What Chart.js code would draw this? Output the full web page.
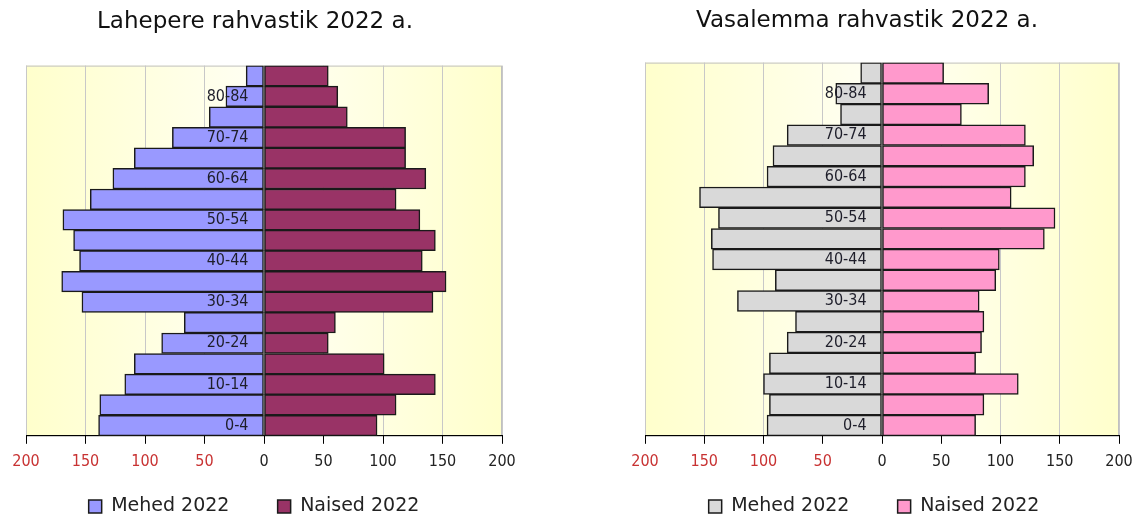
<!DOCTYPE html>
<html>
<head>
<meta charset="utf-8">
<script src="https://cdn.jsdelivr.net/npm/chart.js@4.4.1/dist/chart.umd.min.js"></script>
<style>
  body { margin: 0; background: #fff; }
  .box { position: absolute; top: 0; width: 571px; height: 520px; }
</style>
</head>
<body>
<div class="box" style="left:0"><canvas id="lahepere"></canvas></div>
<div class="box" style="left:571px"><canvas id="vasalemma"></canvas></div>
<script>
const ageGroups = ["0-4", "5-9", "10-14", "15-19", "20-24", "25-29", "30-34", "35-39", "40-44",
  "45-49", "50-54", "55-59", "60-64", "65-69", "70-74", "75-79", "80-84", "85+"];

const lahepereMehed  = [139, 138, 117, 109, 86, 67, 153, 170, 155, 160, 169, 146, 127, 109, 77, 46, 32, 15];
const lahepereNaised = [95, 111, 144, 101, 54, 60, 142, 153, 133, 144, 131, 111, 136, 119, 119, 70, 62, 54];

const vasalemmaMehed  = [97, 95, 100, 95, 80, 73, 122, 90, 143, 144, 138, 154, 97, 92, 80, 35, 39, 18];
const vasalemmaNaised = [79, 86, 115, 79, 84, 86, 82, 96, 99, 137, 146, 109, 121, 128, 121, 67, 90, 52];

const xTicks = [-200, -150, -100, -50, 0, 50, 100, 150, 200];

const COND = "'DejaVu Sans Condensed', 'DejaVu Sans', sans-serif";
const SANS = "'DejaVu Sans', sans-serif";

// plot background + frame
const plotBg = {
  id: "plotBg",
  beforeDraw(chart) {
    const { ctx, chartArea: a } = chart;
    const g = ctx.createLinearGradient(a.left, 0, a.right, 0);
    g.addColorStop(0, "#ffffcc");
    g.addColorStop(0.5, "#fffff4");
    g.addColorStop(1, "#ffffcc");
    ctx.save();
    ctx.fillStyle = g;
    ctx.fillRect(a.left, a.top, a.right - a.left, a.bottom - a.top);
    ctx.strokeStyle = "#c0c0c0";
    ctx.lineWidth = 1;
    ctx.strokeRect(a.left + 0.5, a.top + 0.5, a.right - a.left - 1, a.bottom - a.top);
    ctx.restore();
  }
};

// title and legend sit a bit left of the plot centre in the original
const shiftBoxes = {
  id: "shiftBoxes",
  afterLayout(chart, args, opts) {
    if (chart.titleBlock) {
      chart.titleBlock.left += opts.title;
      chart.titleBlock.right += opts.title;
    }
    if (chart.legend) {
      chart.legend.left += opts.legend;
      chart.legend.right += opts.legend;
    }
  }
};

function makeChart(id, title, mehed, naised, menColor, womenColor, padding, titlePad, shift) {
  return new Chart(document.getElementById(id), {
    type: "bar",
    data: {
      labels: ageGroups,
      datasets: [
        {
          label: "Mehed 2022",
          data: mehed.map(v => -v),
          backgroundColor: menColor,
          borderColor: "#1a1a1a",
          borderWidth: 1.5,
          borderSkipped: false,
          barPercentage: 1,
          categoryPercentage: 1
        },
        {
          label: "Naised 2022",
          data: naised,
          backgroundColor: womenColor,
          borderColor: "#1a1a1a",
          borderWidth: 1.5,
          borderSkipped: false,
          barPercentage: 1,
          categoryPercentage: 1
        }
      ]
    },
    options: {
      indexAxis: "y",
      responsive: true,
      maintainAspectRatio: false,
      animation: false,
      layout: { padding },
      scales: {
        x: {
          stacked: true,
          min: -200,
          max: 200,
          afterBuildTicks: axis => { axis.ticks = xTicks.map(v => ({ value: v })); },
          grid: { color: "#c8c8c8", tickColor: "#000", tickLength: 8 },
          border: { color: "#000", width: 1 },
          ticks: {
            padding: 8,
            font: { family: COND, size: 16 },
            color: c => (c.tick && c.tick.value < 0 ? "#c83232" : "#222"),
            callback: v => Math.abs(v)
          }
        },
        y: {
          stacked: true,
          reverse: true,
          // labels end a little left of the zero line
          position: { x: -13 },
          grid: { display: false, drawTicks: false },
          border: { display: false },
          ticks: {
            z: 1,
            autoSkip: false,
            font: { family: COND, size: 16 },
            color: "#1e1e2a",
            callback: (v, i) => (i % 2 === 0 ? ageGroups[i] : "")
          }
        }
      },
      plugins: {
        title: {
          display: true,
          text: title,
          color: "#111",
          font: { family: SANS, size: 23, weight: "normal" },
          padding: titlePad
        },
        legend: {
          position: "bottom",
          maxHeight: 41,
          labels: {
            boxWidth: 13,
            boxHeight: 13,
            padding: 18,
            color: "#222",
            font: { family: SANS, size: 19 },
            generateLabels: chart => {
              const items = Chart.defaults.plugins.legend.labels.generateLabels(chart);
              items[0].text += "\u00a0\u00a0\u00a0\u00a0\u00a0";
              return items;
            }
          }
        },
        tooltip: { enabled: false },
        shiftBoxes: shift
      }
    },
    plugins: [plotBg, shiftBoxes]
  });
}

makeChart("lahepere", "Lahepere rahvastik 2022 a.", lahepereMehed, lahepereNaised,
  "#9999ff", "#993366", { left: 26, right: 69, top: 0, bottom: 0 },
  { top: 8, bottom: 30 }, { title: -9, legend: -10 });
makeChart("vasalemma", "Vasalemma rahvastik 2022 a.", vasalemmaMehed, vasalemmaNaised,
  "#d9d9d9", "#ff99cc", { left: 74, right: 23, top: 0, bottom: 0 },
  { top: 7, bottom: 28 }, { title: -15, legend: -8 });
</script>
</body>
</html>
